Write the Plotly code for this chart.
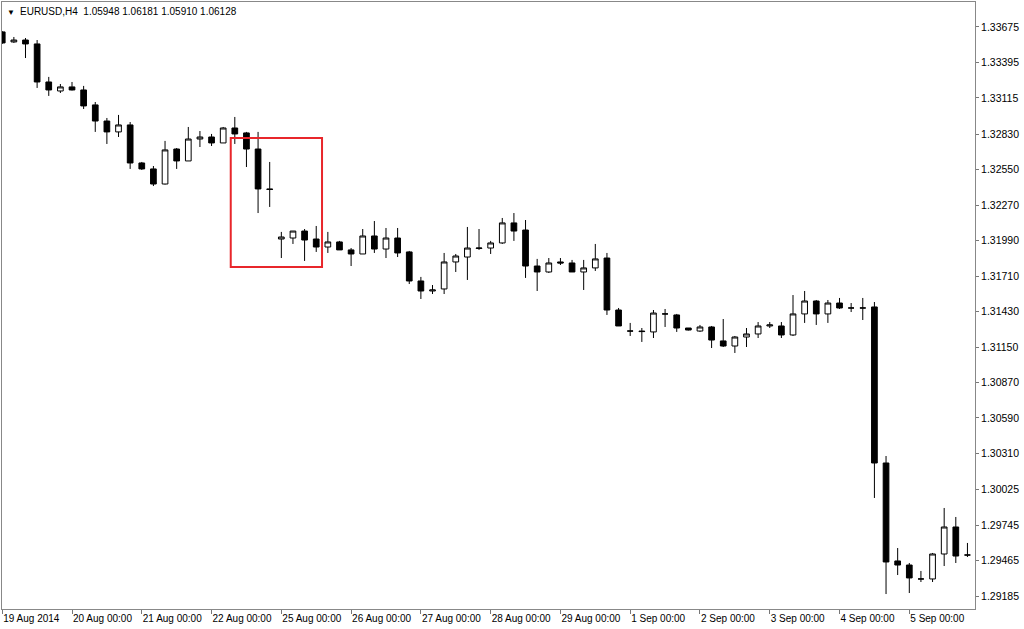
#EURUSD H4 candlestick chart in the MT4 style, with a red box around the 22-25 Aug drop

import plotly.graph_objs as go

# prices of each 4 hour bar (19 Aug 2014 00:00 to 5 Sep 2014 20:00)
opens = [1.33636, 1.33557, 1.33572, 1.33541, 1.33241, 1.33170, 1.33202, 1.33178, 1.33060, 1.32933,
         1.32847, 1.32902, 1.32602, 1.32555, 1.32436, 1.32712, 1.32618, 1.32791, 1.32807, 1.32760,
         1.32878, 1.32839, 1.32712, 1.32397, 1.32002, 1.32010, 1.32065, 1.32002, 1.31939, 1.31979,
         1.31916, 1.31884, 1.32026, 1.31923, 1.32010, 1.31900, 1.31671, 1.31592, 1.31608, 1.31821,
         1.31860, 1.31927, 1.31931, 1.31971, 1.32129, 1.32073, 1.31789, 1.31742, 1.31821, 1.31813,
         1.31742, 1.31774, 1.31852, 1.31442, 1.31276, 1.31276, 1.31269, 1.31411, 1.31403, 1.31300,
         1.31276, 1.31308, 1.31198, 1.31158, 1.31229, 1.31253, 1.31316, 1.31316, 1.31245, 1.31411,
         1.31513, 1.31411, 1.31497, 1.31458, 1.31458, 1.31466, 1.30235, 1.29462, 1.29430, 1.29320,
         1.29320, 1.29517, 1.29730, 1.29509]
highs = [1.33643, 1.33596, 1.33588, 1.33572, 1.33281, 1.33225, 1.33241, 1.33210, 1.33083, 1.32957,
         1.32981, 1.32925, 1.32610, 1.32578, 1.32776, 1.32720, 1.32886, 1.32854, 1.32831, 1.32886,
         1.32965, 1.32847, 1.32847, 1.32610, 1.32058, 1.32065, 1.32081, 1.32105, 1.32058, 1.31987,
         1.31931, 1.32081, 1.32144, 1.32089, 1.32089, 1.31908, 1.31703, 1.31639, 1.31892, 1.31884,
         1.32097, 1.32081, 1.31987, 1.32168, 1.32207, 1.32152, 1.31845, 1.31852, 1.31852, 1.31837,
         1.31837, 1.31963, 1.31892, 1.31458, 1.31340, 1.31300, 1.31442, 1.31450, 1.31411, 1.31300,
         1.31324, 1.31316, 1.31371, 1.31237, 1.31300, 1.31347, 1.31347, 1.31347, 1.31560, 1.31592,
         1.31521, 1.31521, 1.31537, 1.31497, 1.31537, 1.31505, 1.30290, 1.29564, 1.29446, 1.29383,
         1.29525, 1.29880, 1.29809, 1.29604]
lows = [1.33541, 1.33549, 1.33430, 1.33194, 1.33131, 1.33154, 1.33174, 1.33028, 1.32847, 1.32752,
        1.32807, 1.32555, 1.32547, 1.32420, 1.32432, 1.32555, 1.32618, 1.32728, 1.32736, 1.32760,
        1.32752, 1.32570, 1.32207, 1.32255, 1.31852, 1.31963, 1.31829, 1.31900, 1.31892, 1.31916,
        1.31789, 1.31884, 1.31892, 1.31852, 1.31860, 1.31647, 1.31529, 1.31568, 1.31568, 1.31742,
        1.31679, 1.31916, 1.31884, 1.31963, 1.31987, 1.31695, 1.31592, 1.31734, 1.31797, 1.31742,
        1.31600, 1.31750, 1.31403, 1.31316, 1.31237, 1.31190, 1.31221, 1.31308, 1.31269, 1.31280,
        1.31269, 1.31142, 1.31150, 1.31103, 1.31150, 1.31221, 1.31300, 1.31221, 1.31237, 1.31340,
        1.31324, 1.31340, 1.31450, 1.31426, 1.31363, 1.29959, 1.29201, 1.29351, 1.29209, 1.29296,
        1.29296, 1.29422, 1.29446, 1.29493]
closes = [1.33549, 1.33572, 1.33541, 1.33241, 1.33178, 1.33202, 1.33178, 1.33052, 1.32933, 1.32847,
          1.32902, 1.32602, 1.32555, 1.32436, 1.32705, 1.32618, 1.32791, 1.32807, 1.32760, 1.32878,
          1.32831, 1.32712, 1.32397, 1.32393, 1.32018, 1.32065, 1.31994, 1.31939, 1.31979, 1.31916,
          1.31884, 1.32026, 1.31923, 1.32010, 1.31892, 1.31671, 1.31592, 1.31600, 1.31821, 1.31868,
          1.31931, 1.31931, 1.31971, 1.32129, 1.32065, 1.31789, 1.31742, 1.31813, 1.31813, 1.31742,
          1.31774, 1.31845, 1.31442, 1.31316, 1.31276, 1.31272, 1.31418, 1.31411, 1.31300, 1.31284,
          1.31308, 1.31205, 1.31158, 1.31229, 1.31253, 1.31316, 1.31324, 1.31245, 1.31411, 1.31513,
          1.31411, 1.31497, 1.31458, 1.31458, 1.31458, 1.30235, 1.29454, 1.29430, 1.29328, 1.29320,
          1.29517, 1.29730, 1.29501, 1.29509]

# one label per trading day, every 6th bar
day_labels = ["19 Aug 2014", "20 Aug 00:00", "21 Aug 00:00", "22 Aug 00:00", "25 Aug 00:00",
              "26 Aug 00:00", "27 Aug 00:00", "28 Aug 00:00", "29 Aug 00:00", "1 Sep 00:00",
              "2 Sep 00:00", "3 Sep 00:00", "4 Sep 00:00", "5 Sep 00:00"]
price_ticks = [1.33675, 1.33395, 1.33115, 1.32830, 1.32550, 1.32270, 1.31990, 1.31710, 1.31430,
               1.31150, 1.30870, 1.30590, 1.30310, 1.30025, 1.29745, 1.29465, 1.29185]

# red box: bar index span and price span
box_bars = [19.65, 27.5]
box_prices = [1.31781, 1.32799]

header = "EURUSD,H4  1.05948 1.06181 1.05910 1.06128"

bars = list(range(len(opens)))
font = "Liberation Sans, Arial, sans-serif"

#create figure
fig = go.Figure()

fig.add_trace(go.Candlestick(
    x=bars, open=opens, high=highs, low=lows, close=closes,
    increasing=dict(fillcolor="white", line=dict(color="black", width=1)),
    decreasing=dict(fillcolor="black", line=dict(color="black", width=1)),
    whiskerwidth=0, showlegend=False, hoverinfo="skip"))

#red rectangle
fig.add_shape(type="rect", xref="x", yref="y",
              x0=box_bars[0], x1=box_bars[1], y0=box_prices[0], y1=box_prices[1],
              line=dict(color="#e8262b", width=2), fillcolor="rgba(0,0,0,0)")

#header text top left
fig.add_annotation(xref="paper", yref="paper", x=0.003, y=0.994, xanchor="left", yanchor="top",
                   text="\u25bc", showarrow=False, font=dict(family=font, size=8, color="black"))
fig.add_annotation(xref="paper", yref="paper", x=0.016, y=0.997, xanchor="left", yanchor="top",
                   text=header, showarrow=False, font=dict(family=font, size=10, color="black"))

fig.update_layout(
    width=1024, height=629,
    margin=dict(l=2, r=49, t=2, b=20, autoexpand=False),
    paper_bgcolor="white", plot_bgcolor="white",
    font=dict(family=font, size=10, color="black"),
    showlegend=False,
)

fig.update_xaxes(
    range=[-0.02, 83.65], rangeslider=dict(visible=False),
    tickvals=bars[::6], ticktext=day_labels, ticklabelposition="outside right", tickangle=0,
    ticks="outside", ticklen=4, tickcolor="#777", tickfont=dict(size=10),
    showgrid=False, zeroline=False, automargin=False,
    showline=True, linecolor="#888", linewidth=1, mirror=True)

fig.update_yaxes(
    side="right", range=[1.29083, 1.33872],
    tickvals=price_ticks, ticktext=["%.5f" % p for p in price_ticks],
    ticks="outside", ticklen=3, tickcolor="#777", tickfont=dict(size=10.5),
    showgrid=False, zeroline=False, automargin=False,
    showline=True, linecolor="#888", linewidth=1, mirror=True)

#write figure, page margin removed so the chart fills the window
fig.write_html("out.html", config={"displayModeBar": False},
               post_script="document.body.style.margin = '0';")
